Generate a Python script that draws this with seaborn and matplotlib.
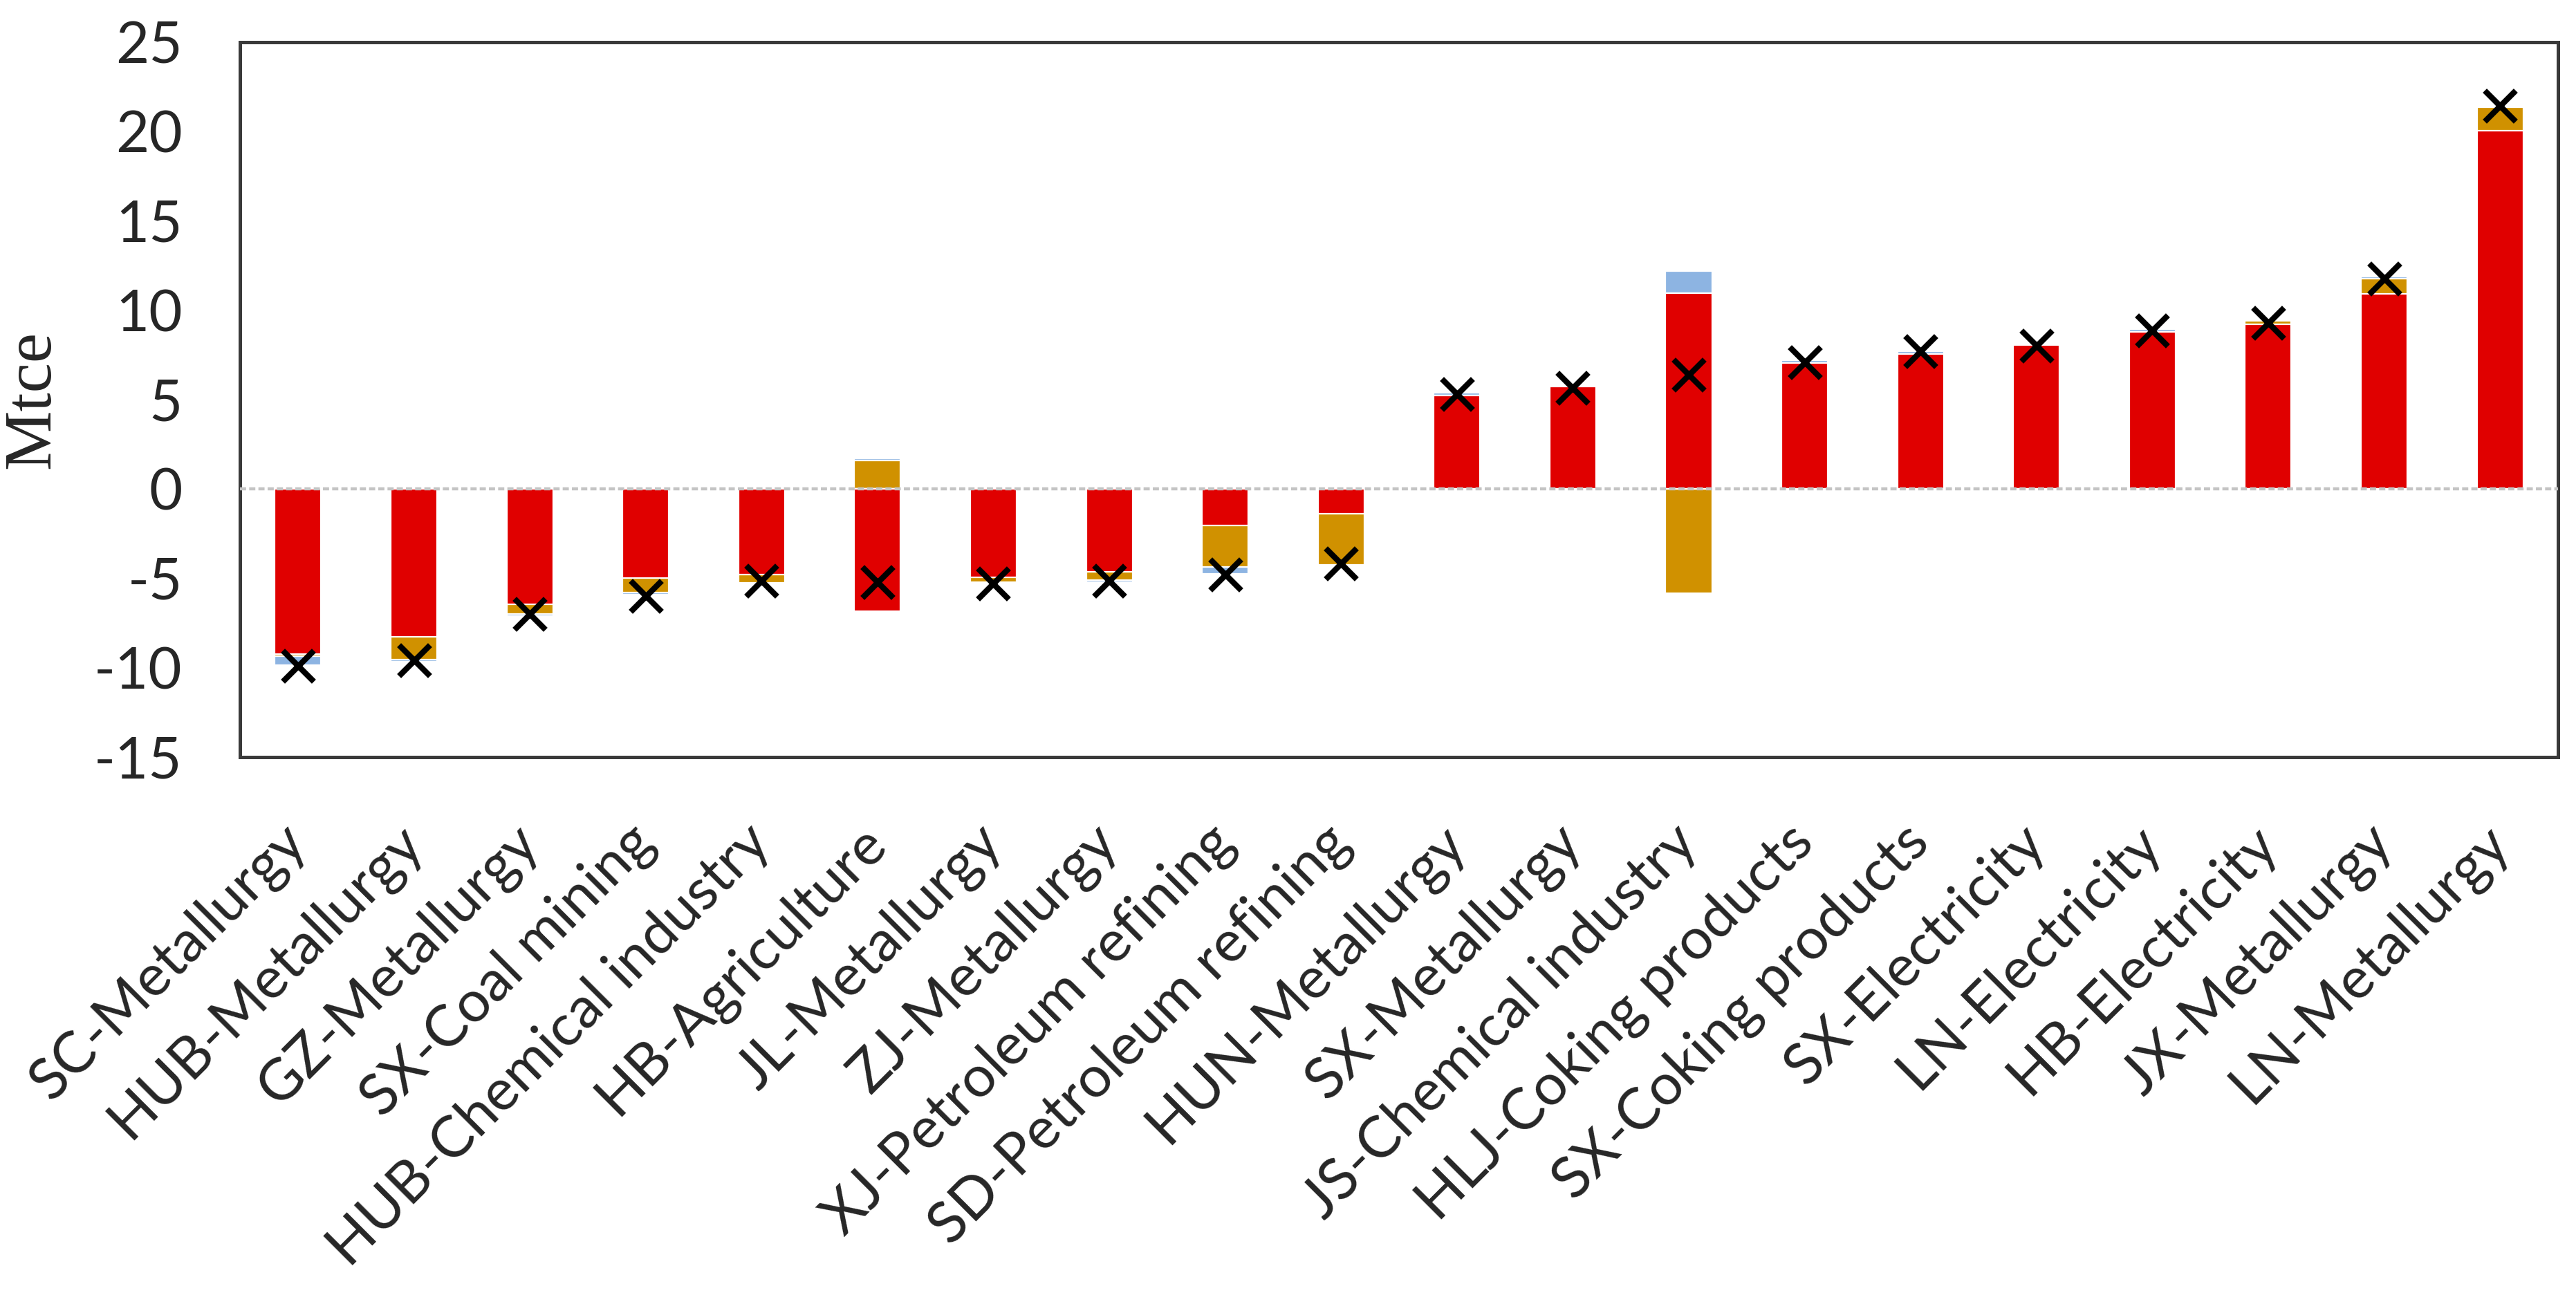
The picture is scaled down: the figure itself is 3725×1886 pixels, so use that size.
import numpy as np
import pandas as pd
import matplotlib
matplotlib.use("Agg")
import matplotlib.pyplot as plt
import seaborn as sns

# Data (Mtce)
sectors = [
    "SC-Metallurgy", "HUB-Metallurgy", "GZ-Metallurgy", "SX-Coal mining",
    "HUB-Chemical industry", "HB-Agriculture", "JL-Metallurgy", "ZJ-Metallurgy",
    "XJ-Petroleum refining", "SD-Petroleum refining", "HUN-Metallurgy",
    "SX-Metallurgy", "JS-Chemical industry", "HLJ-Coking products",
    "SX-Coking products", "SX-Electricity", "LN-Electricity", "HB-Electricity",
    "JX-Metallurgy", "LN-Metallurgy",
]
red_part = [-9.25, -8.25, -6.45, -5.0, -4.8, -6.85, -4.95, -4.65, -2.05, -1.4,
            5.25, 5.75, 10.95, 7.05, 7.55, 8.05, 8.8, 9.2, 10.9, 20.05]
orange_part = [-0.1, -1.3, -0.55, -0.8, -0.45, 1.6, -0.25, -0.45, -2.3, -2.85,
               0.0, 0.0, -5.85, 0.0, 0.0, 0.0, 0.0, 0.2, 0.85, 1.3]
blue_part = [-0.5, -0.1, -0.1, -0.1, 0.0, 0.1, -0.1, -0.1, -0.4, 0.0,
             0.15, 0.0, 1.25, 0.15, 0.15, 0.0, 0.15, 0.1, 0.15, 0.1]
total = [-9.9, -9.6, -7.0, -6.0, -5.15, -5.2, -5.3, -5.15, -4.8, -4.15,
         5.3, 5.65, 6.4, 7.1, 7.7, 8.0, 8.85, 9.3, 11.75, 21.45]
y_ticks = [-15, -10, -5, 0, 5, 10, 15, 20, 25]

RED = "#E00000"
ORANGE = "#D09100"
BLUE = "#8DB4E2"

sns.set_style("white")
plt.rcParams["font.family"] = ["Lato", "DejaVu Sans"]

layers = pd.DataFrame({"sector": sectors, "red": red_part,
                       "orange": orange_part, "blue": blue_part})

# positive and negative parts stack separately (Excel style)
pos = layers[["red", "orange", "blue"]].clip(lower=0).cumsum(axis=1)
neg = layers[["red", "orange", "blue"]].clip(upper=0).cumsum(axis=1)

fig, ax = plt.subplots(figsize=(18.625, 9.43), dpi=200)
fig.subplots_adjust(left=0.0932, right=0.993, top=0.9677, bottom=0.4194)

# draw the outer cumulative layer first, inner layers on top
for col, color in [("blue", BLUE), ("orange", ORANGE), ("red", RED)]:
    for part in (pos, neg):
        sns.barplot(x=layers["sector"], y=part[col], color=color, width=0.4,
                    saturation=1, edgecolor="white", linewidth=0.8, ax=ax,
                    zorder=2)

ax.axhline(0, color="#c4c4c4", linestyle=(0, (2, 1)), linewidth=1.6, zorder=3)

sns.scatterplot(x=layers["sector"], y=total, marker="x", s=260, color="black",
                linewidth=3.0, ax=ax, zorder=4)

ax.set_ylim(-15, 25)
ax.set_xlim(-0.5, len(sectors) - 0.5)
ax.set_yticks(y_ticks)
ax.set_yticklabels([str(t) for t in y_ticks], fontsize=30)
ax.set_xticks(range(len(sectors)))
ax.set_xticklabels(sectors, fontsize=30, rotation=45, ha="right",
                   va="center", rotation_mode="anchor")
ax.tick_params(axis="y", length=0, pad=30)
ax.tick_params(axis="x", length=0, pad=40)
ax.set_xlabel("")
ax.set_ylabel("Mtce", fontsize=35, family="Liberation Serif")
ax.yaxis.set_label_coords(-0.076, 0.5)

for sp in ax.spines.values():
    sp.set_visible(True)
    sp.set_color("#3a3a3a")
    sp.set_linewidth(1.8)

fig.savefig("out.png", dpi=200)
plt.close()
